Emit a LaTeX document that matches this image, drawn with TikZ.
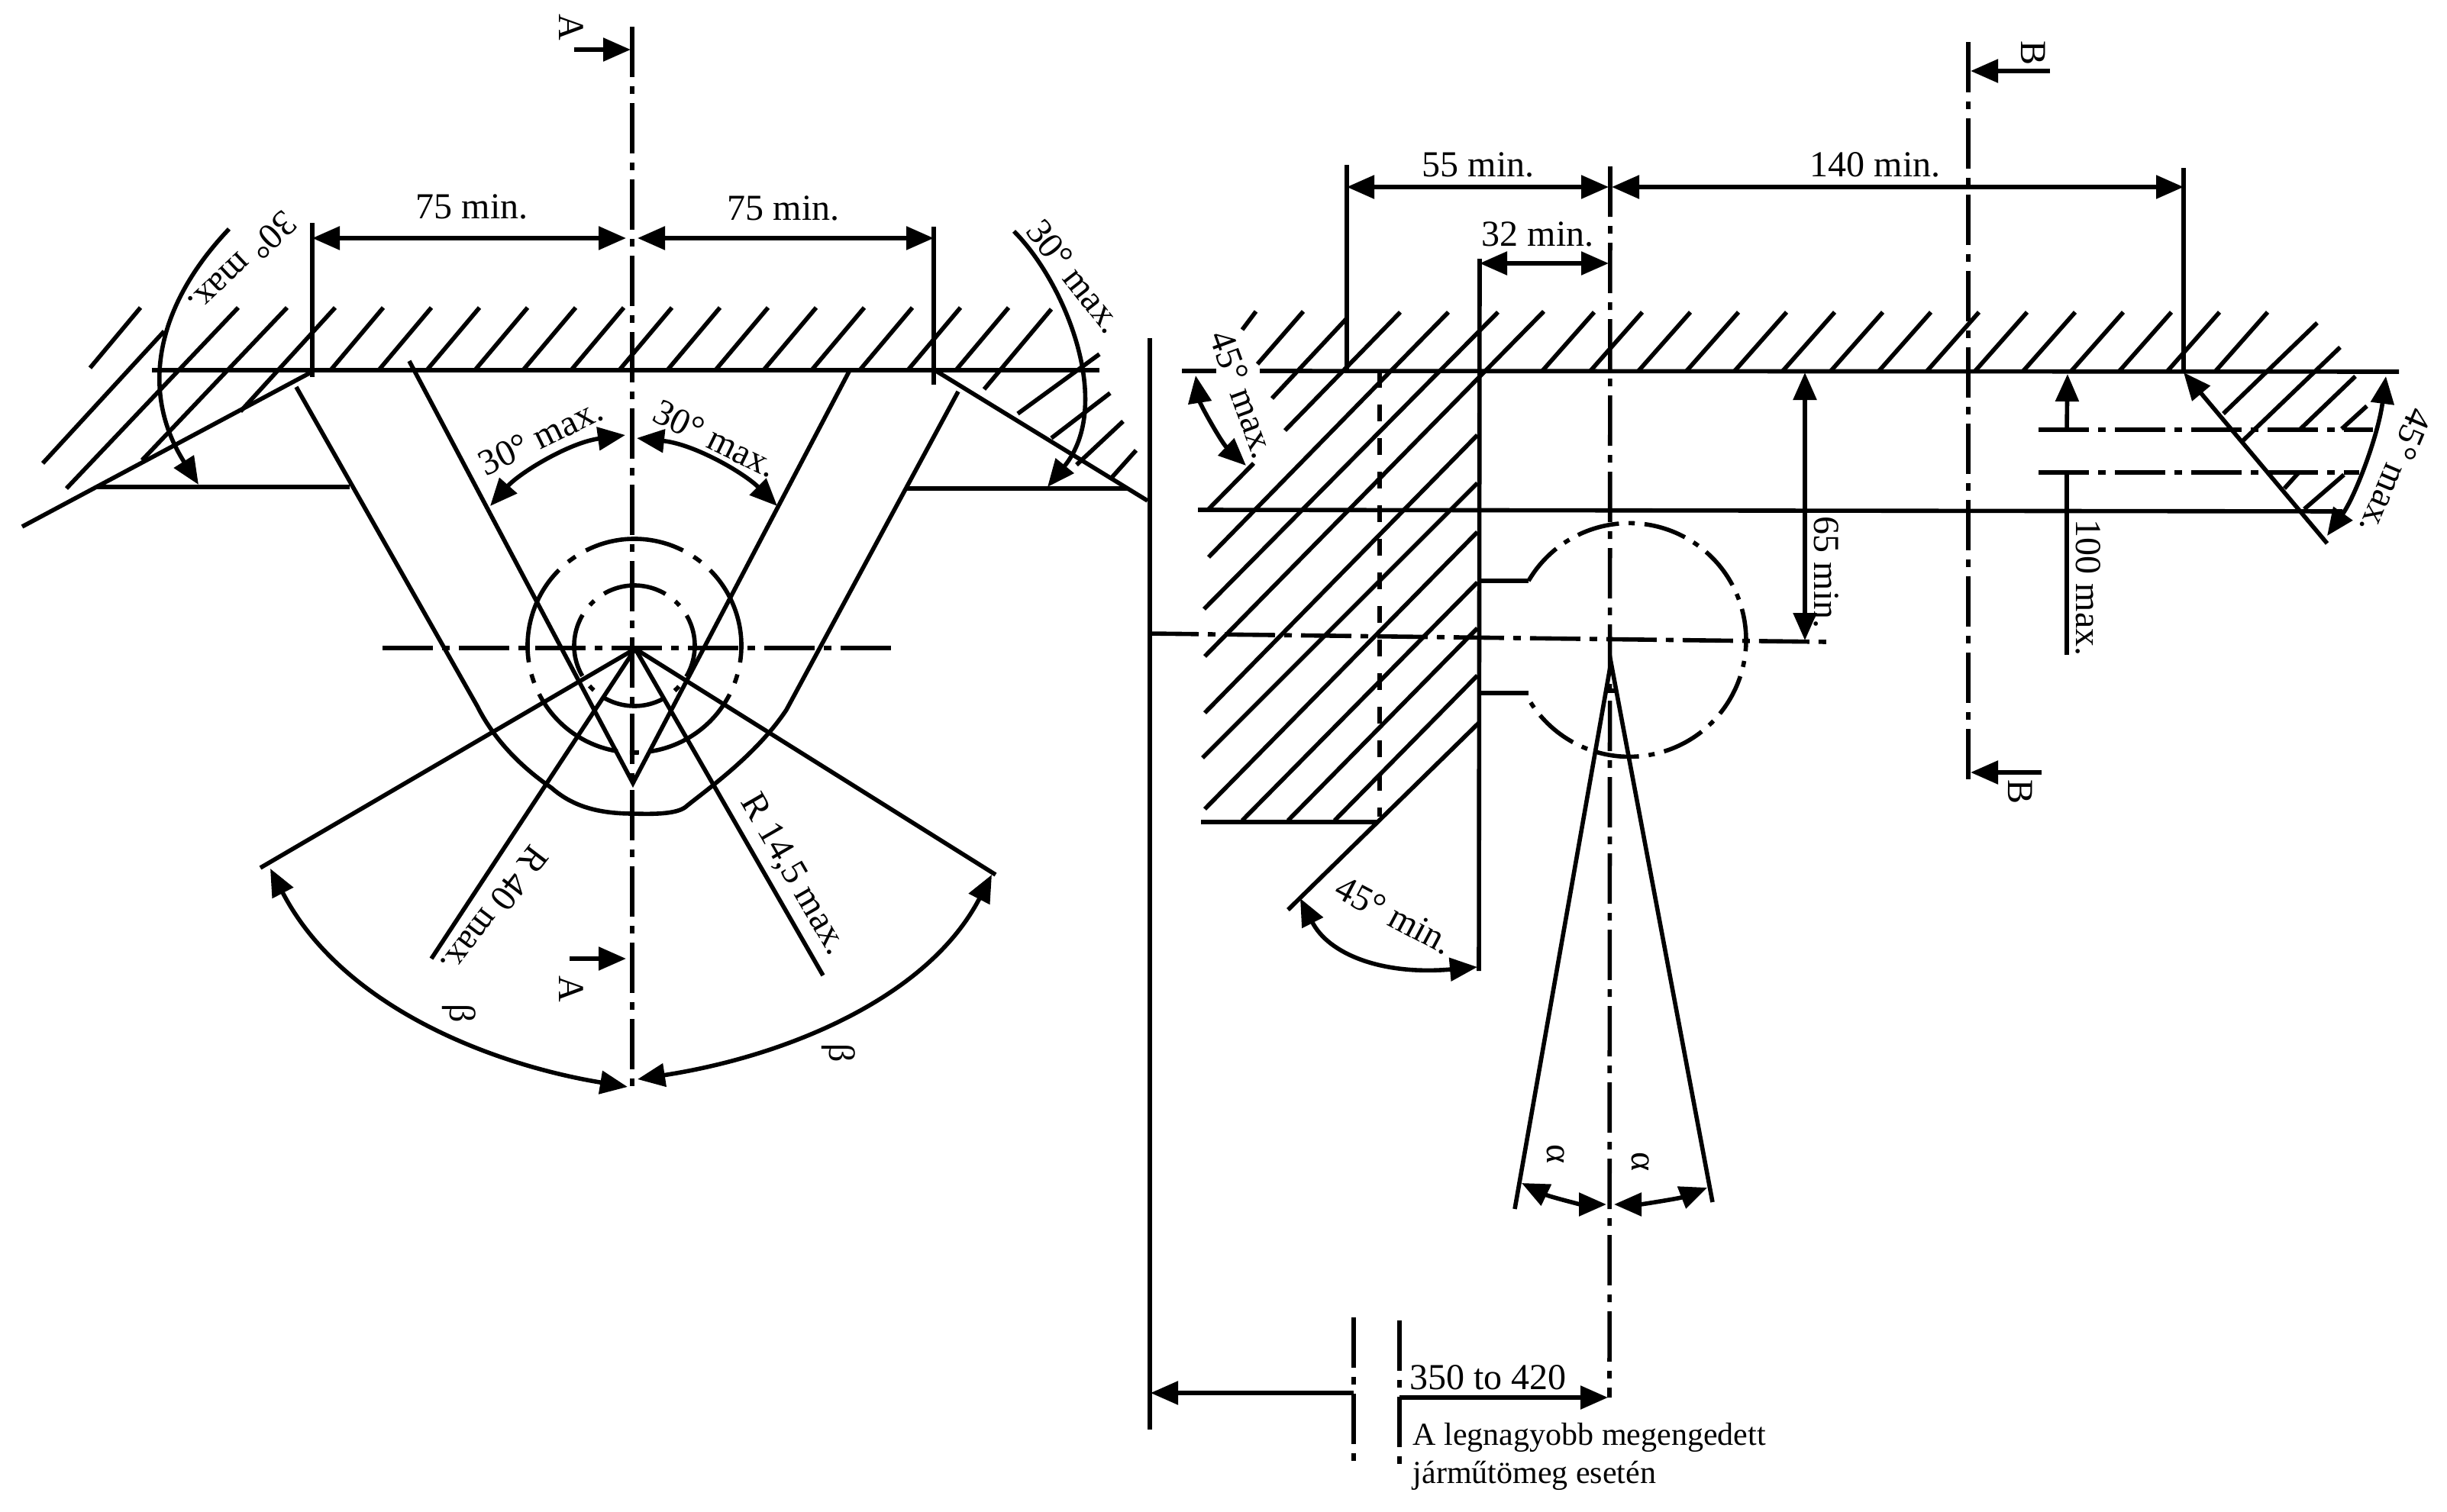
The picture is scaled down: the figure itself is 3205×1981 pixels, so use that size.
\documentclass[tikz,border=0pt]{standalone}
\usepackage{fontspec}
\setmainfont{Liberation Serif}
\usetikzlibrary{arrows.meta}

\begin{document}
\begin{tikzpicture}[
				x=0.25pt,y=-0.25pt,
				>={Triangle[length=9pt,width=7.5pt]},
				outline/.style={line width=1.4pt},
				axisline/.style={line width=1.4pt,dash pattern=on 16.5pt off 3pt on 2.5pt off 3pt},
				hiddenline/.style={line width=1.4pt,dash pattern=on 5.5pt off 5.5pt},
				outerring/.style={line width=1.4pt,dash pattern=on 33pt off 4pt on 3pt off 4pt},
				innerring/.style={line width=1.4pt,dash pattern=on 21pt off 4pt on 2pt off 4pt},
				headring/.style={line width=1.4pt,dash pattern=on 14pt off 3.2pt on 2pt off 3.2pt},
				dimtext/.style={font=\fontsize{12}{14}\selectfont,inner sep=0pt},
				notetext/.style={font=\fontsize{10.5}{12.5}\selectfont,inner sep=0pt,align=left,anchor=north west}]
				\useasboundingbox (0,0) rectangle (3205,1981);

				\coordinate (hub) at (832,850);
				\coordinate (vapex) at (829,1026);
				\coordinate (coneapex) at (2110,868);
				\coordinate (slanttop) at (2860,488);
				\coordinate (slantend) at (3048,712);

				\draw[axisline] (828,35) -- (828,1428);
				\draw[axisline] (501,849) -- (1168,849);
				\draw[outline,->] (752,65) -- (826,65);
				\draw[outline,->] (746,1256) -- (820,1256);
				\node[dimtext,rotate=-90] (seca) at (748,36) {A};
				\node[dimtext,rotate=-90] (secb) at (748,1296) {A};

				\draw[outline] (199,485) -- (1440,485);
				\draw[outline] (409,292) -- (409,494);
				\draw[outline] (1223,297) -- (1223,504);
				\draw[outline,<->] (409,312) -- (820,312);
				\draw[outline,<->] (835,312) -- (1223,312);
				\node[dimtext] (wleft) at (618,271) {75 min.};
				\node[dimtext] (wright) at (1026,273) {75 min.};

				\foreach \hx in {502,565,...,1321}
					\draw[outline] (\hx,403) -- (\hx-69,485);
				\draw[outline] (184,403) -- (118,482);
				\draw[outline] (215,434) -- (56,607);
				\draw[outline] (312,403) -- (87,640);
				\draw[outline] (376,403) -- (186,603);
				\draw[outline] (439,403) -- (315,539);
				\draw[outline] (1377,405) -- (1289,510);
				\draw[outline] (1440,464) -- (1333,542);
				\draw[outline] (1454,515) -- (1377,574);
				\draw[outline] (1471,552) -- (1410,609);
				\draw[outline] (1488,590) -- (1454,628);

				\draw[outline] (29,690) -- (407,488);
				\draw[outline] (126,638) -- (458,638);
				\draw[outline] (1226,486) -- (1503,656);
				\draw[outline] (1187,640) -- (1478,640);

				\draw[outline,->] (300,300) .. controls (205,400) and (182,512) .. (260,635);
				\draw[outline,->] (1328,303) .. controls (1395,370) and (1460,530) .. (1372,638);
				\node[dimtext,rotate=223.5] (capleft) at (318,345) {30° max.};
				\node[dimtext,rotate=-52] (capright) at (1408,362) {30° max.};

				\draw[outline] (536,473) -- (vapex) -- (1113,485);
				\draw[outline] (388,507) -- (625,925) .. controls (650,975) and (690,1010) .. (722,1032)
					.. controls (745,1052) and (775,1066) .. (829,1066)
					.. controls (860,1067) and (885,1066) .. (897,1058)
					.. controls (925,1035) and (990,990) .. (1030,930) -- (1255,513);
				\draw[outline,<->] (819,570) .. controls (745,580) and (680,620) .. (642,663);
				\draw[outline,<->] (834,574) .. controls (910,582) and (975,620) .. (1018,663);
				\node[dimtext,rotate=26] (vleft) at (708,572) {30° max.};
				\node[dimtext,rotate=-26] (vright) at (937,575) {30° max.};

				\draw[outerring] (831,846) ++(-117:140) arc[start angle=-117,delta angle=360,radius=140];
				\draw[innerring] (831,846) ++(-120:79) arc[start angle=-120,delta angle=360,radius=79];

				\draw[outline] (hub) -- (341,1137);
				\draw[outline] (hub) -- (1304,1146);
				\draw[outline] (hub) -- (565,1256);
				\draw[outline] (hub) -- (1078,1278);
				\draw[outline,<->] (354,1138) .. controls (448,1320) and (646,1395) .. (822,1424);
				\draw[outline,<->] (1299,1146) .. controls (1214,1310) and (1024,1385) .. (835,1414);
				\node[dimtext,rotate=232.6] (rlarge) at (648,1193) {R 40 max.};
				\node[dimtext,rotate=-60] (rsmall) at (1039,1146) {R 14,5 max.};
				\node[dimtext,rotate=-90] (betaleft) at (601,1328) {β};
				\node[dimtext,rotate=-90] (betaright) at (1098,1380) {β};

				\draw[outline] (1506,443) -- (1506,1873);
				\draw[axisline] (1504,830) -- (2392,841);

				\draw[axisline] (2109,218) -- (2108,1831);
				\draw[axisline] (2578,55) -- (2578,1021);
				\draw[outline,->] (2685,93) -- (2581,93);
				\draw[outline,->] (2674,1012) -- (2581,1012);
				\node[dimtext,rotate=-90] (secc) at (2663,70) {B};
				\node[dimtext,rotate=-90] (secd) at (2646,1037) {B};

				\draw[outline] (1548,486) -- (1593,486);
				\draw[outline] (1650,486) -- (3142,487);
				\draw[outline] (1569,668) -- (3068,670);
				\draw[outline] (1764,216) -- (1764,486);
				\draw[outline] (2860,220) -- (slanttop);
				\draw[outline] (1938,339) -- (1937,1272);
				\draw[outline,<->] (1764,245) -- (2107,245);
				\draw[outline,<->] (2111,245) -- (2860,245);
				\draw[outline,<->] (1938,345) -- (2107,345);
				\node[dimtext] (topleft) at (1936,216) {55 min.};
				\node[dimtext] (topright) at (2456,216) {140 min.};
				\node[dimtext] (topinner) at (2014,307) {32 min.};

				\foreach \hx in {2088,2151,...,2970}
					\draw[outline] (\hx,409) -- (\hx-68,486);
				\draw[outline] (1645,408) -- (1627,432);
				\draw[outline] (1707,408) -- (1647,477);
				\draw[outline] (1764,417) -- (1666,522);
				\draw[outline] (1834,409) -- (1683,564);
				\draw[outline] (1642,607) -- (1583,667);
				\draw[outline] (1897,409) -- (1583,730);
				\draw[outline] (1962,409) -- (1577,798);
				\draw[outline] (2022,408) -- (1578,860);
				\draw[outline] (1935,570) -- (1578,934);
				\draw[outline] (1935,633) -- (1575,993);
				\draw[outline] (1935,697) -- (1578,1060);
				\draw[outline] (1935,763) -- (1627,1075);
				\draw[outline] (1935,823) -- (1687,1075);
				\draw[outline] (1935,885) -- (1748,1075);
				\draw[outline] (1937,947) -- (1687,1192);
				\draw[outline] (1573,1077) -- (1805,1077);
				\draw[hiddenline] (1807,486) -- (1807,1070);

				\draw[outline,<->] (1566,492) .. controls (1572,530) and (1600,580) .. (1632,610);
				\node[dimtext,rotate=-70] (chamferleft) at (1628,517) {45° max.};
				\draw[outline,<->] (1703,1177) .. controls (1740,1250) and (1810,1278) .. (1935,1267);
				\node[dimtext,rotate=-28] (chamferlow) at (1826,1199) {45° min.};

				\draw[outline] (1938,761) -- (2002,761);
				\draw[outline] (1938,908) -- (2002,908);
				\draw[headring] (2002,761) arc[start angle=210.4,end angle=511.9,radius=153];

				\draw[outline,<->] (2364,488) -- (2364,839);
				\node[dimtext,rotate=-90] (depth) at (2392,750) {65 min.};

				\draw[outline] (1984,1584) -- (coneapex) -- (2243,1575);
				\draw[outline] (2103,905) -- (2119,905);
				\draw[outline,<->] (1993,1550) .. controls (2030,1568) and (2070,1578) .. (2104,1578);
				\draw[outline,<->] (2114,1578) .. controls (2150,1578) and (2200,1570) .. (2236,1556);
				\node[dimtext,rotate=-90] (alphaleft) at (2038,1512) {α};
				\node[dimtext,rotate=-90] (alpharight) at (2149,1522) {α};

				\foreach \hy/\hx in {563/3108,619/3090}
					\draw[axisline] (2670,\hy) -- (\hx,\hy);
				\draw[outline,->] (2707,563) -- (2708,490);
				\draw[outline] (2707,619) -- (2707,858);
				\node[dimtext,rotate=-90] (slotwidth) at (2735,770) {100 max.};

				\draw[outline,<-] (slanttop) -- (slantend);
				\foreach \hu/\hv/\hw/\hz in {3035/423/2912/542,3065/455/2938/577,3085/493/3013/562,3100/532/3067/562,3010/620/2992/640,3070/622/3018/667}
					\draw[outline] (\hu,\hv) -- (\hw,\hz);
				\draw[outline,<->] (3125,493) .. controls (3115,570) and (3085,650) .. (3048,702);
				\node[dimtext,rotate=-113] (chamferright) at (3138,618) {45° max.};

				\draw[axisline] (1773,1726) -- (1773,1916);
				\draw[axisline] (1833,1730) -- (1833,1919);
				\draw[outline,->] (1773,1825) -- (1507,1825);
				\draw[outline,->] (1833,1831) -- (2106,1831);
				\node[dimtext] (span) at (1949,1805) {350 to 420};
				\node[notetext] (note) at (1850,1864) {A legnagyobb megengedett\\járműtömeg esetén};
			\end{tikzpicture}
\end{document}
